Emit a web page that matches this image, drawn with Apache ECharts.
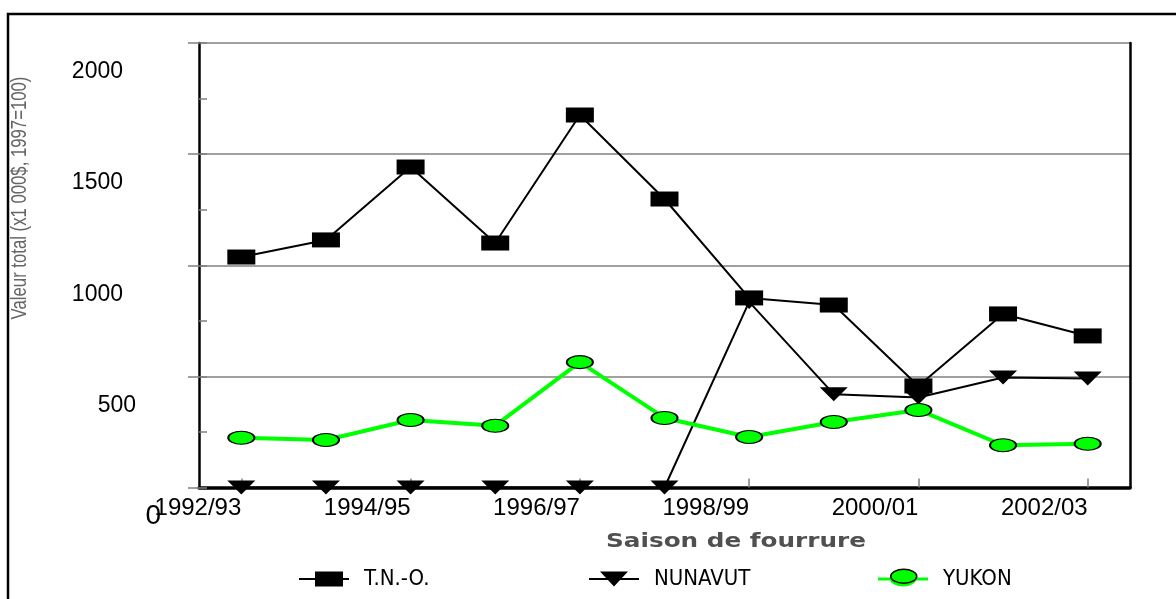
<!DOCTYPE html>
<html><head><meta charset="utf-8">
<script src="https://cdn.jsdelivr.net/npm/echarts/dist/echarts.min.js"></script>
<style>html,body{margin:0;padding:0;background:#fff}#c{width:1176px;height:599px}</style>
</head><body><div id="c"></div>
<script>
// ---- data ----
const seasons = ['1992/93','1993/94','1994/95','1995/96','1996/97','1997/98','1998/99','1999/00','2000/01','2001/02','2002/03'];
const tno     = [1037, 1114, 1442, 1100, 1676, 1298, 853, 821, 457, 781, 682];
const nunavut = [0, 0, 0, 0, 0, 0, 835, 420, 405, 495, 491];
const yukon   = [224, 214, 304, 278, 564, 313, 227, 295, 349, 190, 197];
const yTicks  = [0, 500, 1000, 1500, 2000];
const seriesNames = ['T.N.-O.', 'NUNAVUT', 'YUKON'];
const yTitle = 'Valeur total (x1 000$, 1997=100)';
const xTitle = 'Saison de fourrure';

// ---- font check ----
function hasFont(name){
  const c = document.createElement('canvas').getContext('2d');
  const s = 'abcdefghijklmnopqrstuvwxyz0123456789ABCDEFGHIJ';
  c.font = '40px monospace'; const a = c.measureText(s).width;
  c.font = '40px "' + name + '", monospace'; const b = c.measureText(s).width;
  return Math.abs(a - b) > 0.5;
}
const SANS = '"Liberation Sans", Arial, sans-serif';
let LEG_FONT = SANS, LEG_SIZE = 20;
if (hasFont('Liberation Sans Narrow')) { LEG_FONT = '"Liberation Sans Narrow"'; LEG_SIZE = 23; }
else if (hasFont('DejaVu Sans Condensed')) { LEG_FONT = '"DejaVu Sans Condensed"'; LEG_SIZE = 22; }

const chart = echarts.init(document.getElementById('c'), null, {renderer:'canvas'});
const yStep = yTicks[1] - yTicks[0];
const yMin = yTicks[0], yMax = yTicks[yTicks.length - 1];

function legendBlock(name, icon, left){
  return { data: [{ name: name, icon: icon }], left: left, top: 568, padding: 0,
    itemWidth: 50, itemHeight: 15, symbolKeepAspect: false, itemStyle: { borderWidth: 0 },
    textStyle: { fontFamily: LEG_FONT, fontSize: LEG_SIZE, color: '#000', padding: [0, 0, 0, 10] } };
}

const option = {
  animation: false,
  backgroundColor: '#fff',
  grid: { left: 199, right: 46, top: 43, bottom: 111.5, containLabel: false, outerBoundsMode: 'none' },
  xAxis: {
    type: 'category', data: seasons, boundaryGap: true,
    axisLine: { show: true, lineStyle: { color: '#000', width: 3.5 } },
    axisTick: { show: true, inside: true, alignWithLabel: true, interval: 1, length: 9, lineStyle: { color: '#808080', width: 1.5 } },
    axisLabel: { interval: 1, align: 'right', margin: 9, fontSize: 24, fontFamily: SANS, color: '#000' },
    splitLine: { show: false }
  },
  yAxis: [
    {
      type: 'value', min: yMin, max: yMax, interval: yStep, position: 'left',
      axisLine: { show: true, lineStyle: { color: '#000', width: 2.5 } },
      axisTick: { show: true, inside: false, length: 11, lineStyle: { color: '#808080', width: 1.5 } },
      splitLine: { show: true, lineStyle: { color: '#808080', width: 1.5 } },
      axisLabel: {
        margin: 38, align: 'right', verticalAlign: 'middle', padding: [58, 0, 0, 0],
        color: '#000', fontFamily: SANS, fontSize: 23,
        formatter: v => v === 0 ? '{z|0}' : (v < 1000 ? '{b|' + v + '}' : '{a|' + v + '}'),
        rich: {
          a: { fontSize: 23, fontFamily: SANS, color: '#000', padding: [0, 38, 0, 0] },
          b: { fontSize: 23, fontFamily: SANS, color: '#000', padding: [0, 25, 0, 0] },
          z: { fontSize: 28, fontFamily: SANS, color: '#000' }
        }
      }
    },
    {
      type: 'value', min: yMin, max: yMax, interval: yStep / 2, position: 'left',
      axisLine: { show: false }, axisLabel: { show: false }, splitLine: { show: false },
      axisTick: { show: true, inside: true, length: 8, lineStyle: { color: '#808080', width: 1.5 } }
    },
    {
      type: 'value', min: yMin, max: yMax, interval: yStep, position: 'right',
      axisLine: { show: true, lineStyle: { color: '#000', width: 2.5 } },
      axisTick: { show: false }, axisLabel: { show: false }, splitLine: { show: false }
    }
  ],
  legend: [
    legendBlock(seriesNames[0], 'path://M0,6.5H50V8.5H0Z M16,0H44V15H16Z', 299),
    legendBlock(seriesNames[1], 'path://M0,6.5H50V8.5H0Z M11,0H39L25,15Z', 589),
    legendBlock(seriesNames[2], 'path://M0,6H50V9H0Z M12,7.5A13,7.5 0 1,1 38,7.5A13,7.5 0 1,1 12,7.5Z', 878),
    { data: [{ name: seriesNames[2], icon: 'path://M0,7A13,7 0 1,1 26,7A13,7 0 1,1 0,7Z' }], formatter: () => '',
      left: 890, top: 568.5, padding: 0, itemWidth: 26, itemHeight: 14, symbolKeepAspect: false,
      itemStyle: { color: '#00ff00', borderColor: '#000', borderWidth: 1.5 } }
  ],
  graphic: [
    { type: 'polyline', silent: true, shape: { points: [[8, 602], [8, 14], [1180, 14]] },
      style: { stroke: '#000', lineWidth: 2.5, fill: null } },
    { type: 'text', silent: true, x: 20, y: 198, rotation: Math.PI / 2, scaleX: 0.76,
      style: { text: yTitle, font: '22px ' + SANS, fill: '#666666', align: 'center', verticalAlign: 'middle' } },
    { type: 'text', silent: true, x: 736, y: 542, scaleX: 1.3,
      style: { text: xTitle, font: 'bold 19px "DejaVu Sans", sans-serif', fill: '#505050', align: 'center', verticalAlign: 'middle' } }
  ],
  series: [
    { name: seriesNames[0], type: 'line', data: tno, yAxisIndex: 0, symbol: 'rect', symbolSize: [28, 15], showAllSymbol: true,
      itemStyle: { color: '#000' }, lineStyle: { color: '#000', width: 2 } },
    { name: seriesNames[1], type: 'line', data: nunavut, yAxisIndex: 0, symbol: 'triangle', symbolRotate: 180, symbolSize: [28, 14], showAllSymbol: true,
      itemStyle: { color: '#000' }, lineStyle: { color: '#000', width: 2 } },
    { name: seriesNames[2], type: 'line', data: yukon, yAxisIndex: 0, symbol: 'circle', symbolSize: [26, 13], showAllSymbol: true,
      itemStyle: { color: '#00ff00', borderColor: '#000', borderWidth: 1.5 }, lineStyle: { color: '#00ff00', width: 4 } }
  ]
};
chart.setOption(option);
</script>
</body></html>
